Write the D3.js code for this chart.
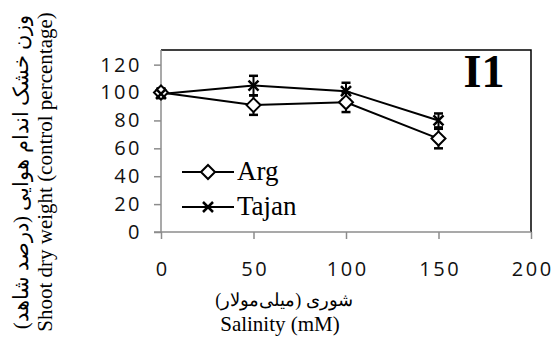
<!DOCTYPE html>
<html>
<head>
<meta charset="utf-8">
<script src="https://cdn.jsdelivr.net/npm/d3@7"></script>
<style>
  body { margin: 0; background: #fff; }
  svg { display: block; }
</style>
</head>
<body>
<svg id="viz" width="559" height="358"></svg>
<script>
// salinity levels (mM)
var salinity = [0, 50, 100, 150];
// shoot dry weight, % of control
var argValues = [100, 91, 93, 67];
var argErrors = [3, 7, 7, 7];
var tajanValues = [99, 105, 101, 80];
var tajanErrors = [3, 7, 6, 5];
var yTicks = [0, 20, 40, 60, 80, 100, 120];
var xTicks = [0, 50, 100, 150, 200];

var series = [
  { name: "Arg", values: argValues, errors: argErrors, marker: "diamond" },
  { name: "Tajan", values: tajanValues, errors: tajanErrors, marker: "cross" }
];

(function() {
  var svg = d3.select('svg#viz');
  var pLeft = 161, pRight = 531, pTop = 50, pBottom = 232;

  var x = d3.scaleLinear().domain([0, 200]).range([pLeft, pRight]);
  var y = d3.scaleLinear().domain([0, 130.5]).range([pBottom, pTop]);

  // plot box (top + right in black)
  svg.append('path')
    .attr('d', 'M' + pLeft + ',' + pTop + 'H' + pRight + 'V' + pBottom)
    .attr('fill', 'none')
    .attr('stroke', '#000')
    .attr('stroke-width', 1.5);

  // y axis
  var yAxis = svg.append('g')
    .attr('transform', 'translate(' + pLeft + ',0)')
    .call(d3.axisLeft(y).tickValues(yTicks).tickSize(7).tickPadding(12));
  // x axis
  var xAxis = svg.append('g')
    .attr('transform', 'translate(0,' + pBottom + ')')
    .call(d3.axisBottom(x).tickValues(xTicks).tickSize(7).tickPadding(23));

  [yAxis, xAxis].forEach(function(ax) {
    ax.select('.domain').attr('stroke', '#8c8c8c').attr('stroke-width', 1.5);
    ax.selectAll('.tick line').attr('stroke', '#8c8c8c').attr('stroke-width', 1.5);
    ax.selectAll('.tick text')
      .attr('fill', '#111')
      .style('font-family', '"Open Sans", sans-serif')
      .style('font-size', '20px')
      .style('letter-spacing', '2.5px');
  });
  xAxis.selectAll('.tick text').attr('dx', '1.25px');
  yAxis.select('.domain').attr('d', 'M0,' + pBottom + 'V' + pTop);
  xAxis.select('.domain').attr('d', 'M' + (pLeft - 7) + ',0H' + pRight);

  // lines
  var line = d3.line()
    .x(function(d, i) { return x(salinity[i]); })
    .y(function(d) { return y(d); });

  series.forEach(function(s) {
    svg.append('path')
      .datum(s.values)
      .attr('d', line)
      .attr('fill', 'none')
      .attr('stroke', '#000')
      .attr('stroke-width', 2);
  });

  // error bars
  series.forEach(function(s) {
    var g = svg.append('g');
    s.values.forEach(function(v, i) {
      var cx = x(salinity[i]);
      var y1 = y(v + s.errors[i]), y2 = y(v - s.errors[i]);
      g.append('line').attr('x1', cx).attr('x2', cx).attr('y1', y1).attr('y2', y2)
        .attr('stroke', '#000').attr('stroke-width', 2);
      [y1, y2].forEach(function(yy) {
        g.append('line').attr('x1', cx - 4.5).attr('x2', cx + 4.5).attr('y1', yy).attr('y2', yy)
          .attr('stroke', '#000').attr('stroke-width', 2.5);
      });
    });
  });

  // markers
  function drawMarker(g, type, cx, cy) {
    if (type === 'diamond') {
      g.append('path')
        .attr('d', 'M' + (cx - 7) + ',' + cy + 'L' + cx + ',' + (cy - 7) + 'L' + (cx + 7) + ',' + cy + 'L' + cx + ',' + (cy + 7) + 'Z')
        .attr('fill', '#fff')
        .attr('stroke', '#000')
        .attr('stroke-width', 2);
    } else {
      g.append('path')
        .attr('d', 'M' + (cx - 5) + ',' + (cy - 5) + 'L' + (cx + 5) + ',' + (cy + 5) + 'M' + (cx - 5) + ',' + (cy + 5) + 'L' + (cx + 5) + ',' + (cy - 5))
        .attr('stroke', '#000')
        .attr('stroke-width', 2.5);
    }
  }

  series.forEach(function(s) {
    var g = svg.append('g');
    s.values.forEach(function(v, i) {
      drawMarker(g, s.marker, x(salinity[i]), y(v));
    });
  });

  // legend
  series.forEach(function(s, i) {
    var ly = 172 + i * 35;
    var g = svg.append('g');
    g.append('line').attr('x1', 182).attr('x2', 234).attr('y1', ly).attr('y2', ly)
      .attr('stroke', '#000').attr('stroke-width', 2);
    drawMarker(g, s.marker, 208, ly);
    g.append('text')
      .attr('x', 237).attr('y', ly + 8)
      .style('font-family', '"Liberation Serif", serif')
      .style('font-size', '27px')
      .text(s.name);
  });

  // panel label
  svg.append('text')
    .attr('x', 484).attr('y', 87)
    .attr('text-anchor', 'middle')
    .style('font-family', '"Liberation Serif", serif')
    .style('font-weight', 'bold')
    .style('font-size', '46px')
    .text('I1');

  // axis titles
  svg.append('text')
    .attr('transform', 'translate(28,172) rotate(-90)')
    .attr('text-anchor', 'middle')
    .attr('direction', 'rtl')
    .style('font-family', '"Liberation Serif", "DejaVu Serif", serif')
    .style('font-size', '21px')
    .text('وزن خشک اندام هوایی (درصد شاهد)');
  svg.append('text')
    .attr('transform', 'translate(52,172) rotate(-90)')
    .attr('text-anchor', 'middle')
    .style('font-family', '"Liberation Serif", serif')
    .style('font-size', '21px')
    .text('Shoot dry weight (control percentage)');

  svg.append('text')
    .attr('x', 284).attr('y', 306)
    .attr('text-anchor', 'middle')
    .attr('direction', 'rtl')
    .style('font-family', '"Liberation Serif", "DejaVu Serif", serif')
    .style('font-size', '18px')
    .text('شوری (میلی‌مولار)');
  svg.append('text')
    .attr('x', 280).attr('y', 331)
    .attr('text-anchor', 'middle')
    .style('font-family', '"Liberation Serif", serif')
    .style('font-size', '21px')
    .text('Salinity (mM)');
})();
</script>
</body>
</html>
